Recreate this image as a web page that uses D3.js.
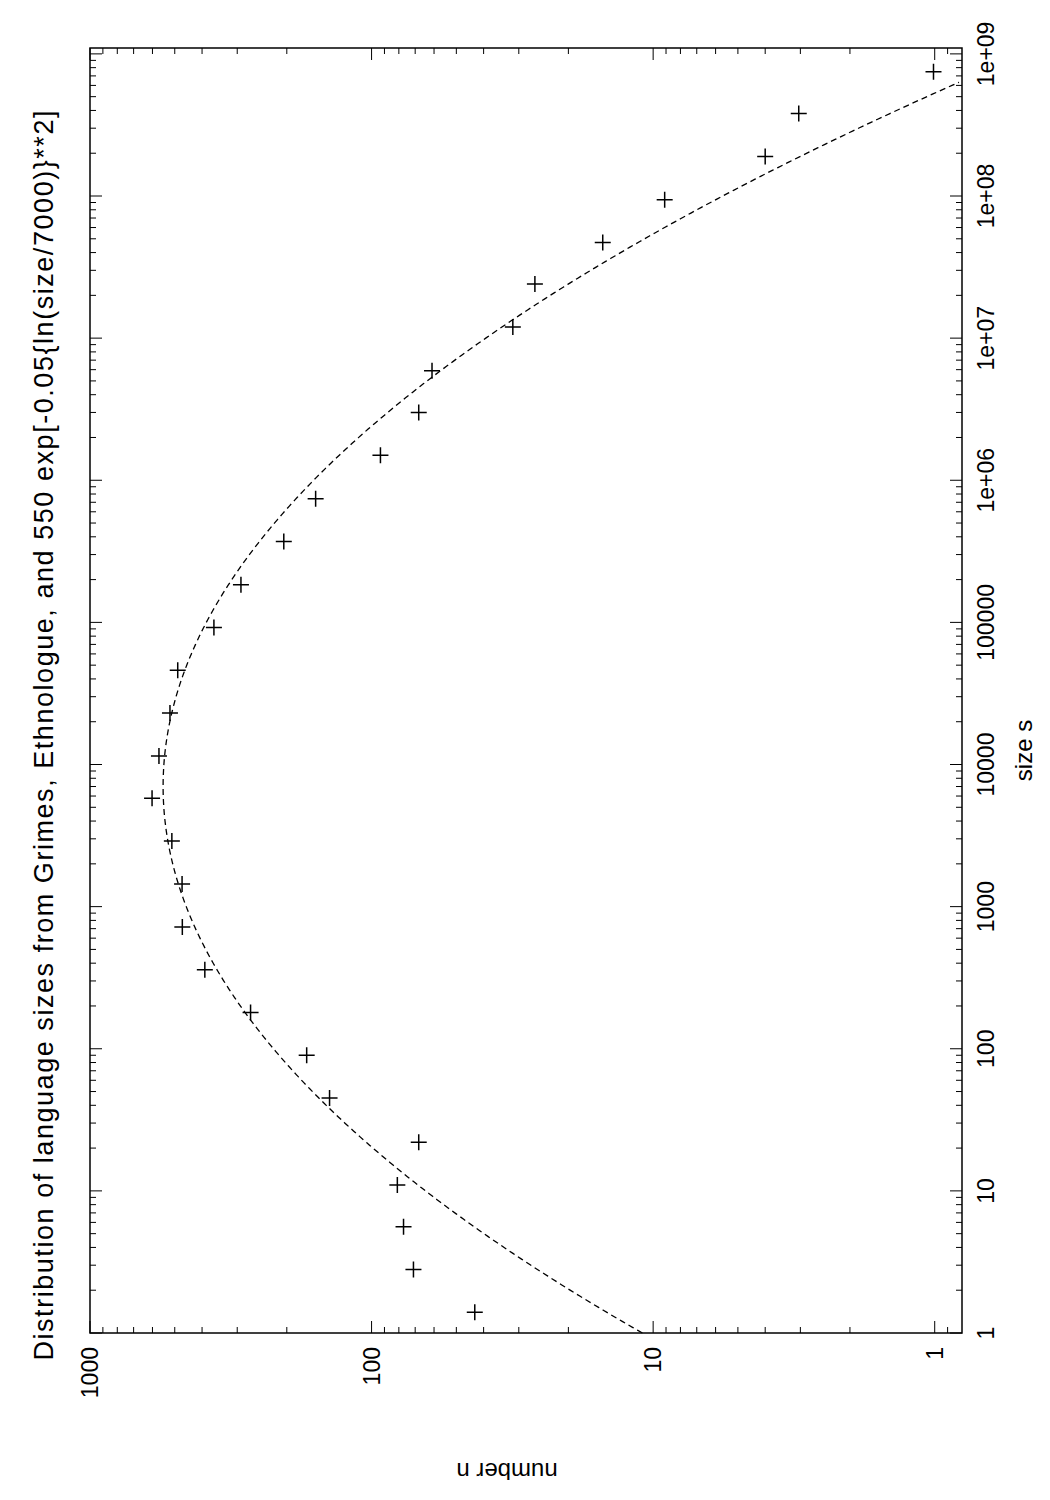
<!DOCTYPE html>
<html><head><meta charset="utf-8">
<script src="https://cdn.jsdelivr.net/npm/d3@7"></script>
<style>body{margin:0;background:#fff}text{font-family:"Liberation Sans",Arial,sans-serif;fill:#000}</style>
</head><body><svg id="c" width="1050" height="1500"></svg>
<script>
const sizes=[1.4,2.8,5.6,11,22,45,90,180,360,720,1440,2900,5800,11500,23000,46000,92000,184000,370000,740000,1.5e6,3e6,5.9e6,1.2e7,2.4e7,4.7e7,9.4e7,1.9e8,3.8e8,7.5e8];
const counts=[43,71,77,81,68,141,170,269,391,470,471,512,602,569,520,488,363,291,205,158,93,68,61,31.5,26.3,15.1,9.1,4.0,3.04,1.01];
const xTicks=[1,10,100,1000,10000,100000,1e6,1e7,1e8,1e9];
const xTickLabels=["1","10","100","1000","10000","100000","1e+06","1e+07","1e+08","1e+09"];
const yTicks=[1,10,100,1000];
const title="Distribution of language sizes from Grimes, Ethnologue, and  550 exp[-0.05{ln(size/7000)}**2]";

const svg=d3.select("#c");
const W=1285,H=872;
const g=svg.append("g").attr("transform","translate(90,1333) rotate(-90)");
const x=d3.scaleLog().domain([1,1.1e9]).range([0,W]);
const y=d3.scaleLog().domain([0.8,1000]).range([H,0]);

g.append("rect").attr("width",W).attr("height",H).attr("fill","none").attr("stroke","#000").attr("stroke-width",1.5);
const minorX=[];xTicks.forEach(t=>{for(let k=2;k<10;k++){const v=t*k;if(v<1.1e9)minorX.push(v);}});
const gx=g.append("g");
xTicks.forEach(t=>{const px=x(t);
 gx.append("line").attr("x1",px).attr("x2",px).attr("y1",0).attr("y2",12).attr("stroke","#000");
 gx.append("line").attr("x1",px).attr("x2",px).attr("y1",H).attr("y2",H-12).attr("stroke","#000");});
minorX.forEach(t=>{const px=x(t);
 gx.append("line").attr("x1",px).attr("x2",px).attr("y1",0).attr("y2",6).attr("stroke","#000");
 gx.append("line").attr("x1",px).attr("x2",px).attr("y1",H).attr("y2",H-6).attr("stroke","#000");});
xTicks.forEach((t,i)=>gx.append("text").attr("x",x(t)).attr("y",H+32).attr("text-anchor","middle").attr("font-size",23).text(xTickLabels[i]));
const minorY=[];[0.1,1,10,100].forEach(t=>{for(let k=2;k<10;k++){const v=t*k;if(v>0.8&&v<1000)minorY.push(v);}});
yTicks.forEach(t=>{const py=y(t);
 g.append("line").attr("x1",0).attr("x2",12).attr("y1",py).attr("y2",py).attr("stroke","#000");
 g.append("line").attr("x1",W).attr("x2",W-12).attr("y1",py).attr("y2",py).attr("stroke","#000");
 g.append("text").attr("x",-14).attr("y",py+8).attr("text-anchor","end").attr("font-size",23).text(t);});
minorY.forEach(t=>{const py=y(t);
 g.append("line").attr("x1",0).attr("x2",6).attr("y1",py).attr("y2",py).attr("stroke","#000");
 g.append("line").attr("x1",W).attr("x2",W-6).attr("y1",py).attr("y2",py).attr("stroke","#000");});
g.append("text").attr("x",W/2-60).attr("y",H+70).attr("text-anchor","middle").attr("font-size",24).text("size s");
g.append("text").attr("x",W/2-45).attr("y",-37).attr("text-anchor","middle").attr("font-size",27).attr("textLength",1250).text(title);
svg.append("text").attr("transform","translate(507,1463) rotate(180)").attr("text-anchor","middle").attr("font-size",24).text("number n");
const fit=[];for(let e=0;e<=9.05;e+=0.02){const s=Math.pow(10,e);const n=550*Math.exp(-0.05*Math.pow(Math.log(s/7000),2));if(n>=0.8)fit.push([s,n]);}
g.append("path").datum(fit).attr("d",d3.line().x(d=>x(d[0])).y(d=>y(d[1]))).attr("fill","none").attr("stroke","#000").attr("stroke-width",1.3).attr("stroke-dasharray","6,4");
sizes.forEach((s,i)=>{const px=x(s),py=y(counts[i]);
 g.append("path").attr("d",`M${px-8},${py}H${px+8}M${px},${py-8}V${py+8}`).attr("stroke","#000").attr("stroke-width",1.5);});
</script></body></html>
